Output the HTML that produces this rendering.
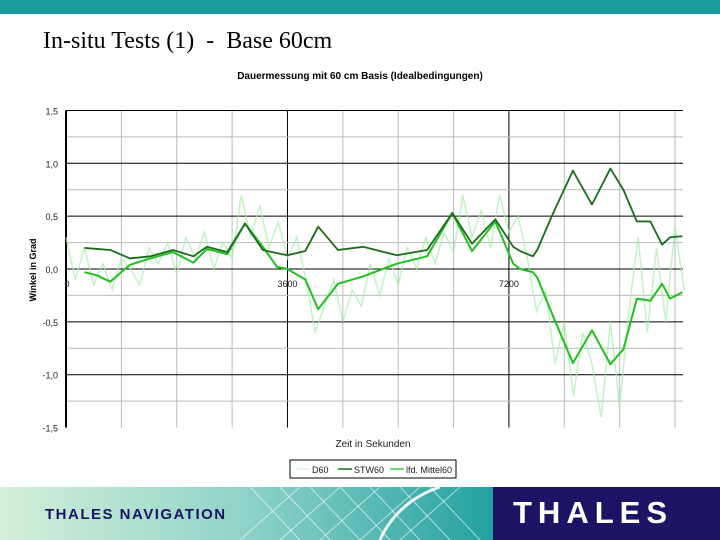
<!DOCTYPE html>
<html><head><meta charset="utf-8"><style>
body{margin:0;width:720px;height:540px;overflow:hidden;background:#fff;font-family:"Liberation Sans",sans-serif;position:relative}
</style></head><body>
<div style="position:absolute;left:0;top:0;width:720px;height:14px;background:#1a9c9c"></div>
<div style="position:absolute;left:43px;top:28px;font:24px 'Liberation Serif',serif;color:#000;white-space:pre">In-situ Tests (1)  -  Base 60cm</div>
<svg id="chart" width="720" height="487" style="position:absolute;left:0;top:0" font-family="Liberation Sans, sans-serif"></svg>
<div style="position:absolute;left:0;top:487px;width:493px;height:53px;background:linear-gradient(90deg,#d4efd8,#8fd3c8 50%,#22a0a0)">
  <svg width="493" height="53" style="position:absolute;left:0;top:0">
    <g stroke="#fff" stroke-opacity="0.6" fill="none" stroke-width="1">
      <path d="M250 0 L300 53 M280 0 L330 53 M310 0 L360 53 M340 0 L390 53 M370 0 L420 53 M400 0 L450 53 M430 0 L480 53"/>
      <path d="M240 53 L300 0 M280 53 L340 0 M320 53 L380 0 M360 53 L420 0 M400 53 L460 0"/>
      <path d="M380 53 C390 30 410 10 440 0" stroke-width="3" stroke-opacity="0.9"/>
    </g>
  </svg>
  <div style="position:absolute;left:45px;top:19px;font:bold 15px 'Liberation Sans',sans-serif;color:#1b1464;letter-spacing:1.5px">THALES NAVIGATION</div>
</div>
<div style="position:absolute;left:493px;top:487px;width:227px;height:53px;background:#1b1464">
  <div style="position:absolute;left:20px;top:8px;font:bold 31px 'Liberation Sans',sans-serif;color:#fff;letter-spacing:6px">THALES</div>
</div>
<script>
const lineTimes=[300,500,720,1040,1370,1740,2070,2290,2620,2910,3200,3430,3600,3890,4100,4420,4830,5380,5870,6280,6600,6980,7270,7380,7590,7660,7920,8240,8550,8850,9060,9280,9500,9690,9820,10020];
const stwValues=[0.20,0.19,0.18,0.10,0.12,0.18,0.12,0.21,0.16,0.43,0.18,0.15,0.13,0.17,0.40,0.18,0.21,0.13,0.18,0.53,0.24,0.47,0.21,0.17,0.12,0.18,0.53,0.93,0.61,0.95,0.75,0.45,0.45,0.23,0.30,0.31];
const mittelValues=[-0.03,-0.06,-0.12,0.04,0.10,0.16,0.06,0.19,0.14,0.43,0.21,0.02,0.0,-0.1,-0.38,-0.14,-0.07,0.05,0.12,0.53,0.17,0.45,0.05,0.0,-0.03,-0.08,-0.45,-0.89,-0.58,-0.9,-0.76,-0.28,-0.3,-0.14,-0.28,-0.22];
const d60Step=150;
const d60Values=[0.3,-0.1,0.2,-0.15,0.05,-0.2,0.1,0.0,-0.15,0.2,0.05,0.25,-0.05,0.3,0.1,0.35,0.0,0.25,0.1,0.7,0.3,0.6,0.2,0.45,0.1,0.3,-0.1,-0.6,-0.35,-0.1,-0.5,-0.2,-0.35,0.05,-0.25,0.1,-0.15,0.2,0.0,0.3,0.05,0.35,0.15,0.7,0.3,0.55,0.2,0.7,0.35,0.5,0.1,-0.4,-0.2,-0.9,-0.5,-1.2,-0.6,-0.9,-1.4,-0.5,-1.3,-0.4,0.3,-0.6,0.2,-0.5,0.4,-0.2];
const yTicks=[1.5,1.0,0.5,0,-0.5,-1.0,-1.5];
const yTickLabels=["1,5","1,0","0,5","0,0","-0,5","-1,0","-1,5"];
const xTicks=[0,3600,7200];
const xTickLabels=["0","3600","7200"];
const NS="http://www.w3.org/2000/svg";
const svg=document.getElementById('chart');
const X0=66,X1=683,T1=10030,Y0=269,PY=105.7;
const xs=t=>X0+(X1-X0)*t/T1;
const ys=v=>Y0-v*PY;
function mk(tag,attrs,parent){const e=document.createElementNS(NS,tag);for(const k in attrs)e.setAttribute(k,attrs[k]);(parent||svg).appendChild(e);return e;}
let e=mk('text',{x:360,y:79,'text-anchor':'middle','font-size':10,'font-weight':'bold'});e.textContent='Dauermessung mit 60 cm Basis (Idealbedingungen)';


// gridlines
for(let t=900;t<T1;t+=900){e=mk('line',{x1:xs(t),x2:xs(t),y1:ys(1.5),y2:ys(-1.5),stroke:(t%3600===0)?'#000':'#bbb','stroke-width':1});

}
for(let v=-1.25;v<=1.5;v+=0.25){const major=Math.abs(v*2-Math.round(v*2))<1e-6;e=mk('line',{x1:X0,x2:X1,y1:ys(v),y2:ys(v),stroke:major?'#000':'#bbb','stroke-width':1});

}
e=mk('line',{x1:X0,x2:X0,y1:ys(1.5),y2:ys(-1.5),stroke:'#000','stroke-width':2});


yTicks.forEach((v,i)=>{e=mk('text',{x:X0-8,y:ys(v)+4,'text-anchor':'end','font-size':9,fill:'#222'});e.textContent=yTickLabels[i];

});
xTicks.forEach((t,i)=>{e=mk('text',{x:xs(t)+(i?0:1),y:287,'text-anchor':'middle','font-size':9,fill:'#222'});e.textContent=xTickLabels[i];

});
e=mk('text',{x:36,y:270,'text-anchor':'middle','font-size':9,'font-weight':'bold',transform:'rotate(-90 36 270)'});e.textContent='Winkel in Grad';


e=mk('text',{x:373,y:447,'text-anchor':'middle','font-size':10,fill:'#222'});e.textContent='Zeit in Sekunden';


// series
const d60pts=d60Values.map((v,i)=>xs(i*d60Step)+','+ys(v)).join(' ');
e=mk('polyline',{points:d60pts,fill:'none',stroke:'#a8eea8','stroke-opacity':0.7,'stroke-width':1.5});


e=mk('polyline',{points:mittelValues.map((v,i)=>xs(lineTimes[i])+','+ys(v)).join(' '),fill:'none',stroke:'#22c022','stroke-width':2,'stroke-linejoin':'round'});


e=mk('polyline',{points:stwValues.map((v,i)=>xs(lineTimes[i])+','+ys(v)).join(' '),fill:'none',stroke:'#1a6e1a','stroke-width':1.8,'stroke-linejoin':'round'});


// legend
const lg=mk('g',{});


mk('rect',{x:290,y:460,width:166,height:18,fill:'#fff',stroke:'#000','stroke-width':1},lg);
const items=[['D60','#d8f5d8',296],['STW60','#1a6e1a',338],['lfd. Mittel60','#44cc44',390]];
items.forEach(it=>{const g=mk('g',{},lg);


mk('line',{x1:it[2],x2:it[2]+14,y1:469,y2:469,stroke:it[1],'stroke-width':1.5},g);
const t=mk('text',{x:it[2]+16,y:473,'font-size':9,fill:'#222'},g);t.textContent=it[0];});
</script>
</body></html>
